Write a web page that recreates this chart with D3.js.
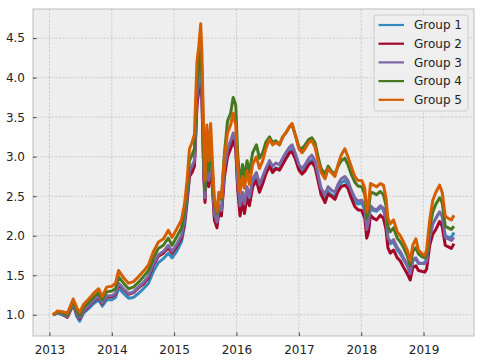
<!DOCTYPE html>
<html><head><meta charset="utf-8">
<script src="https://cdn.jsdelivr.net/npm/d3@7"></script>
<style>html,body{margin:0;padding:0;background:#fff;}svg{display:block;font-family:"DejaVu Sans",sans-serif;}</style>
</head><body><svg id="c" width="482" height="362"></svg>
<script>
const dates = ["2013-01-22","2013-02-18","2013-03-18","2013-04-16","2013-05-20","2013-06-10","2013-06-27","2013-07-19","2013-08-19","2013-09-16","2013-10-16","2013-11-06","2013-12-02","2014-01-01","2014-01-23","2014-02-10","2014-03-11","2014-04-09","2014-05-08","2014-06-06","2014-07-05","2014-08-04","2014-09-02","2014-10-01","2014-10-30","2014-11-28","2014-12-20","2015-01-15","2015-02-13","2015-03-03","2015-03-18","2015-04-01","2015-04-16","2015-04-30","2015-05-15","2015-05-26","2015-06-06","2015-06-13","2015-06-24","2015-07-01","2015-07-12","2015-07-23","2015-08-03","2015-08-14","2015-08-25","2015-09-09","2015-09-20","2015-10-05","2015-10-23","2015-11-10","2015-11-28","2015-12-13","2015-12-28","2016-01-08","2016-01-22","2016-02-06","2016-02-17","2016-03-03","2016-03-17","2016-04-05","2016-04-27","2016-05-15","2016-06-03","2016-06-21","2016-07-13","2016-07-31","2016-08-19","2016-09-09","2016-09-28","2016-10-16","2016-11-07","2016-11-22","2016-12-10","2017-01-01","2017-01-19","2017-02-06","2017-02-28","2017-03-18","2017-04-05","2017-04-23","2017-05-11","2017-06-03","2017-06-21","2017-07-09","2017-07-31","2017-08-18","2017-09-06","2017-09-27","2017-10-15","2017-11-03","2017-11-24","2017-12-12","2018-01-04","2018-01-22","2018-02-02","2018-02-13","2018-02-24","2018-03-14","2018-04-01","2018-04-23","2018-05-11","2018-05-26","2018-06-06","2018-06-20","2018-07-09","2018-07-31","2018-08-18","2018-09-06","2018-09-27","2018-10-15","2018-10-30","2018-11-17","2018-12-02","2018-12-20","2019-01-08","2019-01-19","2019-02-06","2019-02-24","2019-03-14","2019-04-05","2019-04-20","2019-05-08","2019-05-26","2019-06-13","2019-06-28"];

const group1 = [1.00,1.02,1.00,0.97,1.13,0.98,0.92,1.02,1.08,1.14,1.19,1.11,1.19,1.19,1.22,1.34,1.27,1.21,1.22,1.27,1.33,1.40,1.55,1.66,1.71,1.78,1.72,1.80,1.92,2.12,2.42,2.75,2.82,2.90,3.70,3.90,4.12,3.80,2.80,2.46,3.03,2.66,3.05,2.62,2.25,2.14,2.35,2.30,2.80,3.05,3.15,3.25,3.15,2.65,2.32,2.50,2.34,2.56,2.42,2.66,2.74,2.58,2.68,2.80,2.90,2.82,2.86,2.84,2.92,2.99,3.06,3.10,3.00,2.85,2.80,2.85,2.93,2.96,2.90,2.73,2.55,2.46,2.56,2.52,2.50,2.60,2.67,2.70,2.64,2.52,2.43,2.40,2.42,2.32,2.05,2.14,2.36,2.32,2.31,2.36,2.33,2.19,1.96,1.90,1.92,1.82,1.77,1.70,1.62,1.52,1.68,1.71,1.65,1.65,1.66,1.70,2.00,2.15,2.22,2.30,2.25,2.00,1.98,1.98,2.04];
const group2 = [1.00,1.03,1.01,0.97,1.14,1.01,0.95,1.04,1.11,1.17,1.22,1.14,1.23,1.23,1.26,1.39,1.32,1.26,1.28,1.34,1.39,1.47,1.63,1.74,1.78,1.85,1.78,1.86,1.97,2.16,2.45,2.75,2.80,2.88,3.65,3.85,4.05,3.72,2.75,2.42,2.98,2.62,3.00,2.58,2.20,2.10,2.30,2.25,2.75,3.00,3.10,3.20,3.10,2.60,2.25,2.45,2.28,2.50,2.38,2.62,2.70,2.55,2.66,2.78,2.88,2.80,2.85,2.83,2.90,2.97,3.05,3.06,2.98,2.83,2.78,2.82,2.90,2.93,2.87,2.70,2.52,2.42,2.53,2.50,2.46,2.56,2.62,2.64,2.60,2.48,2.37,2.33,2.32,2.22,1.97,2.05,2.26,2.22,2.20,2.26,2.22,2.08,1.85,1.78,1.82,1.72,1.68,1.60,1.52,1.44,1.60,1.62,1.56,1.55,1.54,1.58,1.88,2.02,2.08,2.18,2.12,1.88,1.86,1.84,1.90];
const group3 = [1.00,1.03,1.01,0.98,1.15,1.02,0.96,1.05,1.12,1.18,1.23,1.15,1.24,1.24,1.27,1.40,1.33,1.27,1.29,1.35,1.41,1.49,1.65,1.76,1.80,1.88,1.80,1.89,2.00,2.20,2.50,2.82,2.88,2.95,3.75,3.95,4.18,3.85,2.85,2.48,3.08,2.70,3.08,2.65,2.28,2.17,2.38,2.32,2.85,3.10,3.20,3.30,3.20,2.70,2.38,2.55,2.40,2.62,2.48,2.72,2.80,2.65,2.75,2.85,2.95,2.88,2.92,2.90,2.98,3.05,3.12,3.15,3.05,2.90,2.85,2.90,2.98,3.02,2.95,2.78,2.60,2.52,2.62,2.58,2.55,2.65,2.72,2.75,2.70,2.58,2.48,2.44,2.45,2.35,2.08,2.17,2.38,2.34,2.33,2.38,2.35,2.22,1.98,1.92,1.95,1.85,1.80,1.72,1.64,1.52,1.70,1.72,1.66,1.65,1.65,1.68,1.98,2.15,2.22,2.30,2.25,1.98,1.96,1.94,1.98];
const group4 = [1.00,1.04,1.02,1.00,1.17,1.05,0.99,1.09,1.16,1.22,1.28,1.19,1.29,1.30,1.33,1.48,1.40,1.33,1.35,1.41,1.48,1.56,1.72,1.84,1.88,1.97,1.88,1.98,2.10,2.30,2.60,2.95,3.02,3.10,3.95,4.15,4.40,4.05,3.00,2.58,3.25,2.82,3.25,2.78,2.40,2.28,2.52,2.46,3.05,3.45,3.55,3.75,3.65,3.05,2.65,2.90,2.72,2.95,2.80,3.05,3.15,2.98,3.05,3.18,3.25,3.18,3.20,3.15,3.25,3.30,3.38,3.40,3.28,3.12,3.10,3.15,3.22,3.24,3.18,3.00,2.85,2.78,2.88,2.82,2.78,2.88,2.95,2.98,2.90,2.78,2.68,2.63,2.62,2.52,2.22,2.32,2.55,2.54,2.52,2.56,2.52,2.38,2.12,2.05,2.10,1.97,1.92,1.85,1.75,1.62,1.80,1.85,1.77,1.74,1.72,1.76,2.10,2.30,2.40,2.48,2.42,2.12,2.10,2.08,2.12];
const group5 = [1.00,1.05,1.04,1.02,1.20,1.09,1.03,1.13,1.20,1.27,1.33,1.23,1.35,1.36,1.40,1.56,1.47,1.40,1.42,1.48,1.55,1.63,1.80,1.92,1.96,2.07,1.98,2.08,2.20,2.40,2.70,3.10,3.18,3.28,4.20,4.40,4.68,4.30,3.20,2.70,3.40,2.95,3.42,2.90,2.45,2.30,2.55,2.48,3.00,3.30,3.40,3.55,3.40,2.90,2.55,2.75,2.60,2.82,2.65,2.90,3.00,2.85,2.95,3.10,3.22,3.15,3.18,3.15,3.25,3.30,3.38,3.42,3.28,3.10,3.05,3.10,3.18,3.20,3.12,2.95,2.80,2.72,2.85,2.80,2.75,2.90,3.02,3.10,3.00,2.88,2.75,2.70,2.70,2.60,2.30,2.40,2.66,2.64,2.62,2.66,2.64,2.48,2.22,2.15,2.20,2.05,2.00,1.92,1.82,1.68,1.88,1.96,1.82,1.78,1.75,1.82,2.20,2.45,2.55,2.64,2.55,2.25,2.22,2.20,2.26];

const seriesNames = ["Group 1","Group 2","Group 3","Group 4","Group 5"];
const seriesValues = [group1, group2, group3, group4, group5];
const colors = ["#348ABD","#A60628","#7A68A6","#467821","#D55E00"];
const yTicks = [1.0,1.5,2.0,2.5,3.0,3.5,4.0,4.5];
const xTickYears = [2013,2014,2015,2016,2017,2018,2019];

const svg = d3.select("#c");
const L = 33, R = 474, T = 9, B = 336;
const parse = d3.timeParse("%Y-%m-%d");
const dts = dates.map(parse);

const tExt = d3.extent(dts);
const span = tExt[1] - tExt[0];
const x = d3.scaleTime().domain([new Date(+tExt[0] - span*0.05), new Date(+tExt[1] + span*0.05)]).range([L, R]);
const allV = seriesValues.flat();
const vMin = d3.min(allV), vMax = d3.max(allV), vs = vMax - vMin;
const y = d3.scaleLinear().domain([vMin - vs*0.05, vMax + vs*0.05]).range([B, T]);

svg.append("rect").attr("x", L).attr("y", T).attr("width", R-L).attr("height", B-T).attr("fill", "#eeeeee");

const clip = svg.append("defs").append("clipPath").attr("id","clp");
clip.append("rect").attr("x", L).attr("y", T).attr("width", R-L).attr("height", B-T);

const xt = xTickYears.map(yy => new Date(yy, 0, 1));
const g = svg.append("g");
g.selectAll(".gx").data(xt).enter().append("line")
  .attr("x1", d => x(d)).attr("x2", d => x(d)).attr("y1", T).attr("y2", B)
  .attr("stroke", "#b2b2b2").attr("stroke-width", 0.6).attr("stroke-dasharray", "2.2,1.5");
g.selectAll(".gy").data(yTicks).enter().append("line")
  .attr("y1", d => y(d)).attr("y2", d => y(d)).attr("x1", L).attr("x2", R)
  .attr("stroke", "#b2b2b2").attr("stroke-width", 0.6).attr("stroke-dasharray", "2.2,1.5");

const lg = svg.append("g").attr("clip-path","url(#clp)");
seriesValues.forEach((vals, i) => {
  const line = d3.line().x((d, j) => x(dts[j])).y(d => y(d));
  lg.append("path").datum(vals).attr("d", line).attr("fill","none")
    .attr("stroke", colors[i]).attr("stroke-width", 3).attr("stroke-linejoin","round");
});

svg.append("rect").attr("x", L).attr("y", T).attr("width", R-L).attr("height", B-T)
  .attr("fill","none").attr("stroke","#bcbcbc").attr("stroke-width",1);

const xAxis = d3.axisBottom(x).tickValues(xt).tickFormat(d3.timeFormat("%Y")).tickSizeInner(-3.5).tickSizeOuter(0).tickPadding(9);
const ax = svg.append("g").attr("transform", `translate(0,${B})`).call(xAxis);
const yAxis = d3.axisLeft(y).tickValues(yTicks).tickFormat(d3.format(".1f")).tickSizeInner(-3.5).tickSizeOuter(0).tickPadding(8);
const ay = svg.append("g").attr("transform", `translate(${L},0)`).call(yAxis);
[ax, ay].forEach(a => {
  a.select(".domain").remove();
  a.selectAll(".tick line").attr("stroke", "#444").attr("stroke-width", 1);
  a.selectAll(".tick text").attr("fill", "#222").style("font-size", "12px").style("font-family", "DejaVu Sans");
});

const leg = svg.append("g");
leg.append("rect").attr("x", 374).attr("y", 15).attr("width", 94).attr("height", 96).attr("rx", 3)
  .attr("fill", "#eeeeee").attr("fill-opacity", 0.85).attr("stroke", "#cccccc").attr("stroke-width", 1);
seriesNames.forEach((n, i) => {
  const yy = 25 + i * 18.7;
  leg.append("line").attr("x1", 378.5).attr("x2", 404).attr("y1", yy).attr("y2", yy)
    .attr("stroke", colors[i]).attr("stroke-width", 2.2);
  leg.append("text").attr("x", 414).attr("y", yy + 4.3).text(n)
    .attr("fill", "#222").style("font-size", "12px").style("font-family", "DejaVu Sans");
});
</script></body></html>
